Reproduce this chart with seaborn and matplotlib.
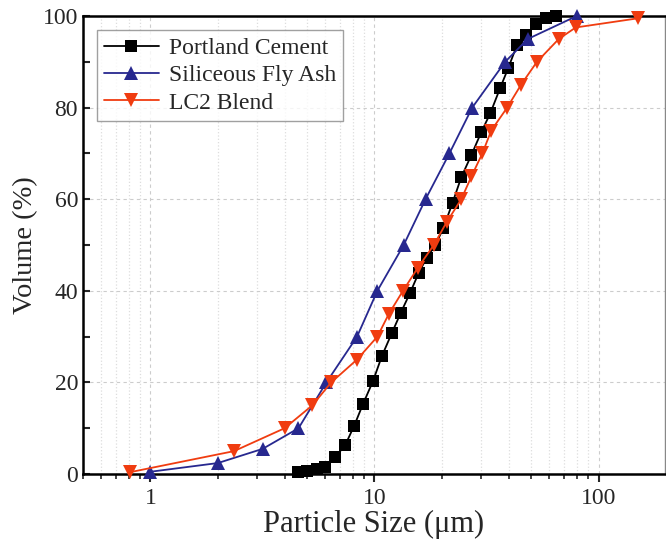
import numpy as np
import pandas as pd
import matplotlib
matplotlib.use('Agg')
import matplotlib.pyplot as plt
import matplotlib.ticker as mticker
import seaborn as sns

# Particle size distributions
opc_size = [4.58, 5.02, 5.56, 6.03, 6.68, 7.40, 8.11, 8.89, 9.85, 10.8, 11.96, 13.1,
            14.4, 15.75, 17.1, 18.7, 20.3, 22.3, 24.4, 27.1, 30.0, 32.9, 36.4, 39.5,
            43.3, 47.5, 52.6, 58.2, 64.4]
opc_vol = [0.4, 0.7, 1.1, 1.6, 3.7, 6.3, 10.5, 15.3, 20.3, 25.8, 30.8, 35.2,
           39.5, 43.9, 47.2, 50.0, 53.7, 59.2, 64.8, 69.7, 74.7, 78.8, 84.3, 88.6,
           93.7, 95.9, 98.3, 99.6, 100.0]

sfa_size = [1.0, 2.0, 3.17, 4.58, 6.1, 8.36, 10.3, 13.5, 16.9, 21.6, 27.3, 38.3, 48.4, 79.9]
sfa_vol = [0.5, 2.4, 5.5, 10.0, 20.0, 30.0, 40.0, 50.0, 60.0, 70.0, 80.0, 90.0, 95.0, 100.0]

lc2_size = [0.81, 2.36, 3.97, 5.28, 6.41, 8.36, 10.3, 11.6, 13.4, 15.6, 18.4, 21.0,
            24.4, 27.1, 30.3, 33.2, 39.1, 45.1, 53.1, 66.5, 79.1, 150.0]
lc2_vol = [0.4, 5.0, 10.0, 15.0, 20.0, 25.0, 30.0, 35.0, 40.0, 45.0, 50.0, 55.0,
           60.0, 65.0, 70.0, 75.0, 80.0, 85.0, 90.0, 95.0, 97.5, 99.5]

sns.set_style("ticks")
plt.rcParams['font.family'] = ['Liberation Serif', 'DejaVu Serif']

fig = plt.figure(figsize=(6.66, 5.43), dpi=100)
ax = fig.add_axes([0.1246, 0.127, 0.8739, 0.8435])

series = [
    ("Portland Cement", opc_size, opc_vol, 'black', 's', 9),
    ("Siliceous Fly Ash", sfa_size, sfa_vol, '#27288f', '^', 10.5),
    ("LC2 Blend", lc2_size, lc2_vol, '#f03c10', 'v', 10.5),
]
for name, xs, ys, col, mk, ms in series:
    df = pd.DataFrame({'size': xs, 'vol': ys})
    sns.lineplot(data=df, x='size', y='vol', ax=ax, color=col, marker=mk,
                 markersize=ms, markeredgewidth=0, linewidth=1.3, label=name,
                 sort=False, clip_on=False, zorder=3)

ax.set_xscale('log')
ax.set_xlim(0.5, 198)
ax.set_ylim(0, 100)
ax.xaxis.set_major_locator(mticker.LogLocator(base=10))
ax.xaxis.set_minor_locator(mticker.LogLocator(base=10, subs=np.arange(2, 10)))
ax.xaxis.set_major_formatter(mticker.FuncFormatter(lambda v, p: f"{v:g}"))
ax.xaxis.set_minor_formatter(mticker.NullFormatter())
ax.yaxis.set_major_locator(mticker.MultipleLocator(20))
ax.yaxis.set_minor_locator(mticker.MultipleLocator(10))

ax.grid(which='major', color='#cccccc', linestyle='--', linewidth=0.8, dashes=(3, 3))
ax.grid(which='minor', axis='x', color='#dddddd', linestyle=':', linewidth=0.9)
ax.set_axisbelow(True)

ax.tick_params(axis='x', which='major', direction='out', length=6, width=1.5, labelsize=17, pad=4)
ax.tick_params(axis='x', which='minor', direction='out', length=3.5, width=1.2)
ax.tick_params(axis='y', which='both', direction='in', length=5, width=1.5, labelsize=17)

for side in ['left', 'bottom', 'top']:
    ax.spines[side].set_linewidth(1.8)
    ax.spines[side].set_color('black')
ax.spines['right'].set_linewidth(1.0)
ax.spines['right'].set_color('#888888')

ax.set_xlabel("Particle Size (\u03bcm)", fontsize=22, labelpad=1)
ax.set_ylabel("Volume (%)", fontsize=20.5, labelpad=3)

leg = ax.legend(loc='upper left', fontsize=17, frameon=True, fancybox=False,
                edgecolor='#888888', borderpad=0.3, handlelength=2.3,
                labelspacing=0.25, handletextpad=0.45, borderaxespad=0.6)
leg.get_frame().set_linewidth(1.0)

fig.savefig('out.png', dpi=100)
